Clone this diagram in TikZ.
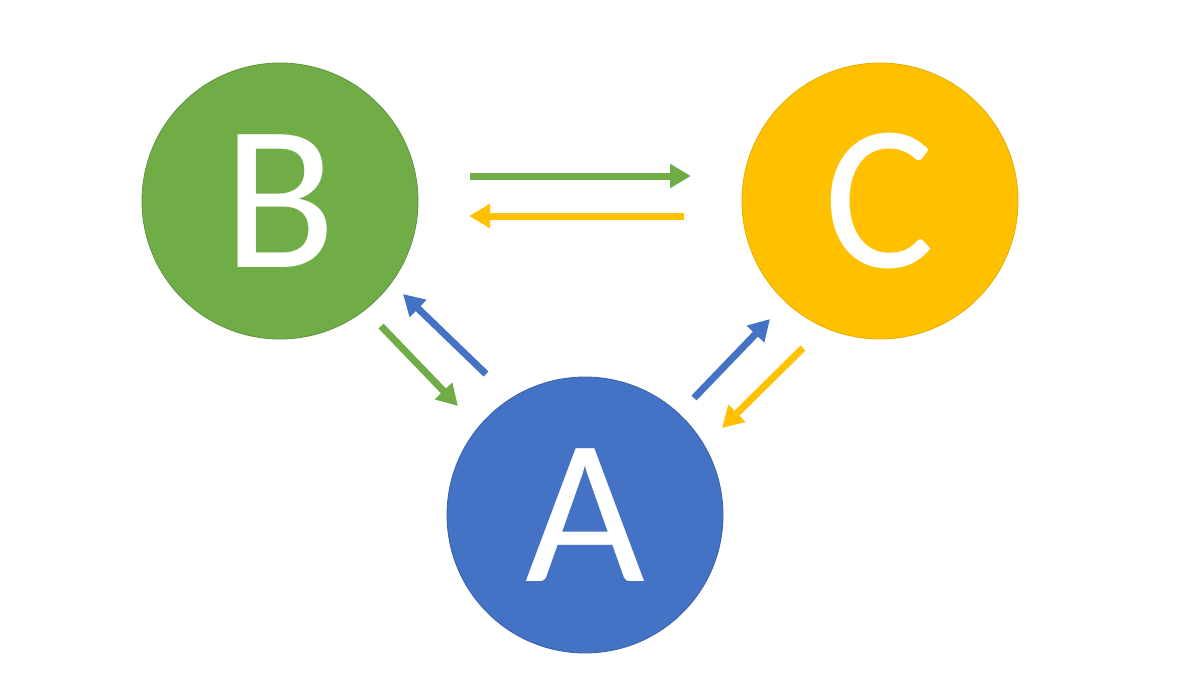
\documentclass[tikz,border=0pt]{standalone}
\usepackage{fontspec}
\setmainfont{Carlito}
\usetikzlibrary{arrows.meta}
\definecolor{cgreen}{HTML}{70AD47}
\definecolor{cyellow}{HTML}{FFC000}
\definecolor{cblue}{HTML}{4472C4}
\begin{document}
\begin{tikzpicture}[x=1pt,y=-1pt,
  ball/.style={circle,minimum size=276pt,inner sep=0pt,line width=0.8pt,text=white,
    font=\fontsize{207}{207}\selectfont},
  flow/.style={line width=7pt,-{Triangle[length=21pt,width=23pt]}}]
\useasboundingbox (0,0) rectangle (1200,675);
\node[ball,fill=cgreen,draw=cgreen!85!black] (B) at (280,201) {B};
\node[ball,fill=cyellow,draw=cyellow!90!black] (C) at (880,201) {C};
\node[ball,fill=cblue,draw=cblue!85!black] (A) at (585,515) {A};
\coordinate (bc1) at (470,176);
\coordinate (bc2) at (691,176);
\coordinate (cb1) at (684,216);
\coordinate (cb2) at (469,216);
\coordinate (ab1) at (486,374);
\coordinate (ab2) at (403,294);
\coordinate (ba1) at (381,326);
\coordinate (ba2) at (458,406);
\coordinate (ac1) at (694,398);
\coordinate (ac2) at (770,319);
\coordinate (ca1) at (803,348);
\coordinate (ca2) at (722,428);
\draw[flow,cgreen] (bc1) -- (bc2);
\draw[flow,cyellow] (cb1) -- (cb2);
\draw[flow,cblue] (ab1) -- (ab2);
\draw[flow,cgreen] (ba1) -- (ba2);
\draw[flow,cblue] (ac1) -- (ac2);
\draw[flow,cyellow] (ca1) -- (ca2);
\end{tikzpicture}
\end{document}
